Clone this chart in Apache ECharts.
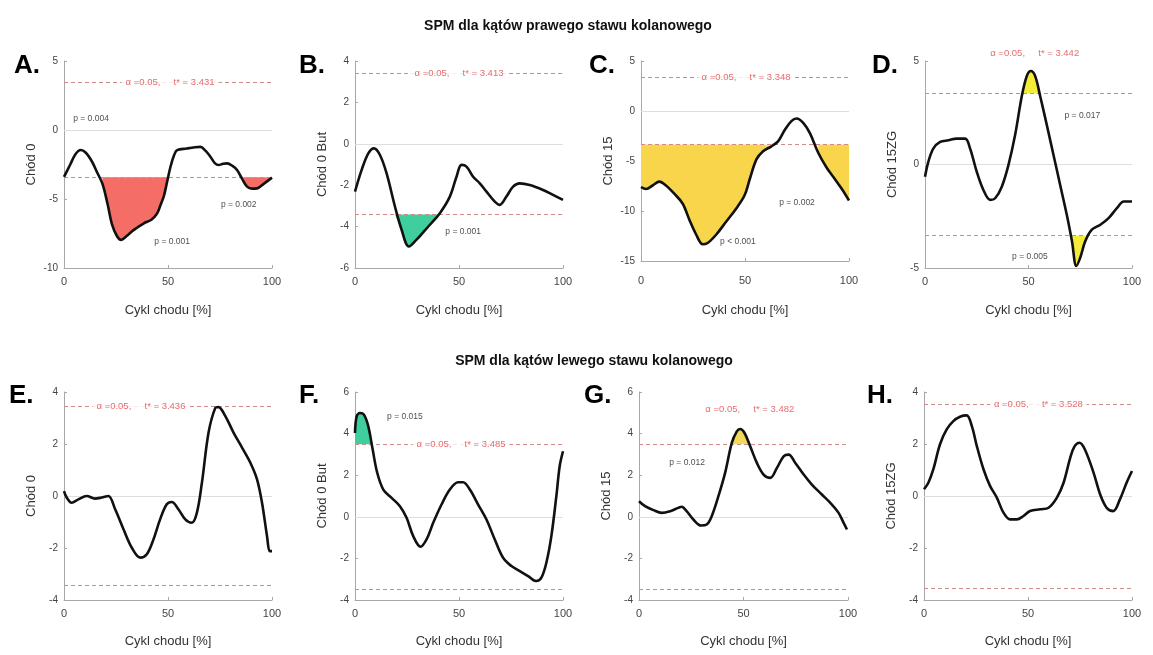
<!DOCTYPE html>
<html>
<head>
<meta charset="utf-8">
<script src="https://cdn.jsdelivr.net/npm/echarts@6/dist/echarts.min.js"></script>
<style>
  html, body { margin: 0; padding: 0; background: #fff; }
  #chart { width: 1153px; height: 655px; }
</style>
</head>
<body>
<div id="chart"></div>
<script>
// SPM{t} curves, [% of gait cycle, t value]
const curveA = [[0,-3.4],[3,-2.5],[5.5,-1.75],[8,-1.45],[10.5,-1.65],[13.5,-2.3],[16,-3.1],[18.5,-3.9],[21,-5.4],[23,-6.8],[25.5,-7.7],[27.5,-7.96],[30,-7.7],[33.6,-7.24],[38.4,-6.76],[42,-6.5],[44.8,-6.04],[46.5,-5.4],[48,-4.8],[49.5,-3.8],[51.2,-2.66],[53,-1.8],[54.4,-1.46],[59,-1.34],[63,-1.25],[65.6,-1.22],[68,-1.5],[70.4,-1.94],[72.5,-2.4],[74.4,-2.54],[76.5,-2.45],[78.4,-2.42],[81,-2.6],[83.2,-2.9],[85.5,-3.5],[88,-4.1],[90.5,-4.25],[92.8,-4.23],[96,-3.9],[100,-3.45]]
const curveB = [[0,-2.31],[3.2,-1.26],[6.4,-0.46],[9.1,-0.22],[12,-0.54],[15.2,-1.43],[19.2,-3.03],[22.4,-4.15],[25.9,-4.96],[29.6,-4.63],[33,-4.25],[36,-3.91],[40.8,-3.35],[45.6,-2.55],[48.8,-1.59],[51.2,-1.02],[53.6,-1.1],[56.8,-1.59],[60,-1.91],[63.2,-2.31],[67.2,-2.79],[69.6,-2.95],[72.8,-2.55],[76,-2.07],[79.2,-1.91],[84,-1.99],[90.4,-2.23],[95.2,-2.47],[100,-2.71]]
const curveC = [[0,-7.6],[2.4,-7.8],[5.6,-7.45],[8.8,-7.06],[12,-7.45],[16,-8.27],[20,-9.25],[23.3,-10.9],[26.5,-12.35],[29.7,-13.33],[32.2,-13.17],[36.2,-12.35],[41,-11.05],[45.8,-9.74],[49.8,-8.43],[52.3,-6.8],[55.5,-4.84],[58.7,-4.02],[62.7,-3.53],[65.9,-3.04],[69.1,-1.9],[72.3,-1.01],[74.8,-0.75],[78,-1.18],[81.2,-2.22],[85.2,-4.18],[89.2,-5.65],[93.2,-6.8],[96.5,-7.78],[100,-8.95]]
const curveD = [[0,-0.59],[1.6,0.13],[4,0.77],[7.3,1.09],[11.3,1.17],[15.3,1.25],[19.4,1.25],[21.8,0.77],[25,-0.35],[28.2,-1.23],[31.5,-1.71],[33.9,-1.63],[37.1,-1.07],[40.3,-0.03],[43.5,1.41],[46.8,3.32],[49.2,4.28],[51.1,4.52],[53.2,4.28],[55.6,3.32],[58.9,1.88],[62.1,0.45],[65.3,-0.99],[68.5,-2.43],[71,-3.71],[73.1,-4.9],[75,-4.5],[77.4,-3.71],[80.6,-3.15],[84.7,-2.91],[88.7,-2.59],[92.7,-2.11],[96,-1.79],[100,-1.79]]
const curveE = [[0,0.19],[1.3,-0.06],[3.7,-0.26],[6.9,-0.13],[10.9,0],[14.9,-0.1],[18.1,-0.06],[21.3,0],[24.6,-0.51],[28.6,-1.28],[32.6,-1.99],[36.6,-2.37],[39.8,-2.24],[43,-1.67],[46.2,-0.9],[49.4,-0.32],[51.8,-0.23],[55,-0.51],[58.3,-0.9],[61.5,-1.03],[63.9,-0.64],[66.3,0.51],[69.5,2.44],[72.7,3.38],[74.3,3.42],[77.5,3.08],[81.5,2.44],[85.6,1.86],[89.6,1.28],[92.8,0.64],[95.2,-0.26],[97.6,-1.54],[98.9,-2.12],[100,-2.12]]
const curveF = [[0,4.03],[0.8,4.83],[2.4,4.99],[4.3,4.91],[6.4,4.35],[8.5,3.23],[10.7,2.11],[13.6,1.31],[17.6,0.91],[21.6,0.51],[24.8,-0.05],[28,-0.93],[31.5,-1.44],[34.4,-1.09],[37.6,-0.29],[41.6,0.59],[45.6,1.31],[49.6,1.66],[52,1.66],[55.2,1.31],[59.2,0.59],[63.2,-0.13],[67.2,-1.09],[71.2,-1.97],[75.2,-2.37],[79.2,-2.61],[83.2,-2.85],[87.2,-3.09],[89.6,-2.93],[92,-2.21],[94.4,-0.93],[96.8,0.99],[98.4,2.43],[100,3.15]]
const curveG = [[0,0.75],[2.9,0.51],[6.9,0.32],[10.9,0.19],[14.9,0.27],[18.8,0.43],[20.4,0.48],[22.8,0.27],[26,-0.13],[29.7,-0.42],[32.4,-0.37],[34.8,0.03],[38,0.99],[41.2,2.11],[44.4,3.55],[46.8,4.11],[48.4,4.22],[50.5,4.03],[53.2,3.39],[56.4,2.59],[59.6,2.03],[62.8,1.87],[66,2.35],[69.2,2.91],[71.6,2.99],[74.8,2.59],[78.8,2.03],[82.7,1.55],[87.5,1.07],[92.3,0.59],[95.5,0.19],[97.9,-0.29],[99.5,-0.61]]
const curveH = [[0,0.26],[2.1,0.51],[4.5,1.03],[7.7,1.99],[10.9,2.56],[14.1,2.88],[17.3,3.05],[20.5,3.1],[23,2.69],[25.4,1.92],[28.6,1.03],[31.8,0.38],[35,-0.06],[38.2,-0.64],[41.4,-0.9],[44.6,-0.9],[47.8,-0.77],[51,-0.58],[55.9,-0.51],[59.9,-0.45],[63.9,-0.06],[67.1,0.51],[70.3,1.47],[72.3,1.9],[74.7,2.05],[77.3,1.8],[81.5,0.9],[84.7,0.06],[87.8,-0.45],[91,-0.58],[94.2,-0.13],[97.4,0.51],[100,0.96]]

// critical thresholds t*
const tStar = [3.431, 3.413, 3.348, 3.442, 3.436, 3.485, 3.482, 3.528]

// supra-threshold clusters: [side, from %, to %]
const clustersA = [['lower', 17, 49.6], ['lower', 85, 100]]
const clustersB = [['lower', 18, 41]]
const clustersC = [['lower', 0, 63], ['lower', 84, 100]]
const clustersD = [['upper', 45, 57], ['lower', 69, 79]]
const clustersE = []
const clustersF = [['upper', 0, 9]]
const clustersG = [['upper', 43, 54]]
const clustersH = []

// p-value labels: [x %, t, text]
const pLabelsA = [[13, 0.8, 'p = 0.004'], [52, -8.1, 'p = 0.001'], [84, -5.4, 'p = 0.002']]
const pLabelsB = [[52, -4.26, 'p = 0.001']]
const pLabelsC = [[46.6, -13.1, 'p < 0.001'], [75, -9.2, 'p = 0.002']]
const pLabelsD = [[76, 2.34, 'p = 0.017'], [50.7, -4.47, 'p = 0.005']]
const pLabelsE = []
const pLabelsF = [[24, 4.83, 'p = 0.015']]
const pLabelsG = [[23, 2.6, 'p = 0.012']]
const pLabelsH = []

// where the "alpha, t*" text sits: [x %, t]
const tLabelPos = [[51, 3.431], [50, 3.413], [50.5, 3.348], [53, 5.39], [37, 3.436], [51, 3.485], [53, 5.18], [55, 3.528]]

const yNames = ['Chód 0', 'Chód 0 But', 'Chód 15', 'Chód 15ZG', 'Chód 0', 'Chód 0 But', 'Chód 15', 'Chód 15ZG']
const yMin = [-10, -6, -15, -5, -4, -4, -4, -4]
const yMax = [5, 4, 5, 5, 4, 6, 6, 4]
const yStep = [5, 2, 5, 5, 2, 2, 2, 2]
const letters = ['A.', 'B.', 'C.', 'D.', 'E.', 'F.', 'G.', 'H.']

const curves = [curveA, curveB, curveC, curveD, curveE, curveF, curveG, curveH]
const clusters = [clustersA, clustersB, clustersC, clustersD, clustersE, clustersF, clustersG, clustersH]
const pLabels = [pLabelsA, pLabelsB, pLabelsC, pLabelsD, pLabelsE, pLabelsF, pLabelsG, pLabelsH]

// layout
const grids = [
  { left: 64, top: 61, width: 208, height: 207 },
  { left: 355, top: 61, width: 208, height: 207 },
  { left: 641, top: 61, width: 208, height: 200 },
  { left: 925, top: 61, width: 207, height: 207 },
  { left: 64, top: 392, width: 208, height: 208 },
  { left: 355, top: 392, width: 208, height: 208 },
  { left: 639, top: 392, width: 209, height: 208 },
  { left: 924, top: 392, width: 208, height: 208 },
]
const letterPos = [[14, 53], [299, 53], [589, 53], [872, 53], [9, 383], [299, 383], [584, 383], [867, 383]]
const fillColors = ['#f46d66', '#3fcf9f', '#f9d54c', '#f3ec3a', '#f9d54c', '#3fcf9f', '#f3d95a', '#f9d54c']
const xNameGap = [36, 36, 43, 36, 35, 35, 35, 35]
const xLabelMargin = [8, 8, 14, 8, 8, 8, 8, 8]

const chart = echarts.init(document.getElementById('chart'))

const axisGrey = '#a8a8a8'
const threshColor = '#cf8a8a'

const xAxes = grids.map((g, i) => ({
  type: 'value',
  gridIndex: i,
  min: 0,
  max: 100,
  interval: 50,
  name: 'Cykl chodu [%]',
  nameLocation: 'middle',
  nameGap: xNameGap[i],
  nameTextStyle: { fontFamily: 'Liberation Sans', fontSize: 13, color: '#333' },
  axisLine: { show: true, onZero: false, lineStyle: { color: axisGrey } },
  axisTick: { show: true, inside: true, length: 3, lineStyle: { color: axisGrey } },
  axisLabel: { fontFamily: 'Liberation Sans', fontSize: 11, color: '#444', margin: xLabelMargin[i] },
  splitLine: { show: false },
}))

const yAxes = grids.map((g, i) => ({
  type: 'value',
  gridIndex: i,
  min: yMin[i],
  max: yMax[i],
  interval: yStep[i],
  name: yNames[i],
  nameLocation: 'middle',
  nameGap: 26,
  nameTextStyle: { fontFamily: 'Liberation Sans', fontSize: 13, color: '#333' },
  axisLine: { show: true, lineStyle: { color: axisGrey } },
  axisTick: { show: true, inside: true, length: 3, lineStyle: { color: axisGrey } },
  axisLabel: { fontFamily: 'Liberation Sans', fontSize: 10, color: '#444', margin: 6 },
  splitLine: { show: false },
}))

const series = []
curves.forEach((curve, i) => {
  const t = tStar[i]
  // main SPM{t} trajectory with zero and threshold lines
  series.push({
    type: 'line',
    xAxisIndex: i,
    yAxisIndex: i,
    data: curve,
    smooth: 0.35,
    symbol: 'none',
    z: 5,
    lineStyle: { color: '#111', width: 2.6 },
    markLine: {
      silent: true,
      symbol: ['none', 'none'],
      label: { show: false },
      data: [
        { yAxis: 0, lineStyle: { type: 'solid', color: '#dedede', width: 1 } },
        { yAxis: t, lineStyle: { type: [4, 3], color: threshColor, width: 1 } },
        { yAxis: -t, lineStyle: { type: [4, 3], color: threshColor, width: 1 } },
      ],
    },
  })
  // shaded supra-threshold clusters
  clusters[i].forEach(([side, from, to]) => {
    const edge = side === 'upper' ? t : -t
    const clipped = curve
      .filter((p) => p[0] >= from && p[0] <= to)
      .map((p) => [p[0], side === 'upper' ? Math.max(p[1], edge) : Math.min(p[1], edge)])
    series.push({
      type: 'line',
      xAxisIndex: i,
      yAxisIndex: i,
      data: clipped,
      smooth: 0.35,
      symbol: 'none',
      z: 3,
      silent: true,
      lineStyle: { width: 0, opacity: 0 },
      areaStyle: { color: fillColors[i], opacity: 1, origin: edge },
    })
  })
  // text annotations
  const ann = [{
    value: tLabelPos[i],
    label: {
      formatter: 'α =0.05,     t* = ' + t.toFixed(3),
      color: '#e0474c',
      backgroundColor: '#fff',
      padding: [1, 4],
      fontSize: 9.5,
    },
  }]
  pLabels[i].forEach(([x, y, txt]) => {
    ann.push({ value: [x, y], label: { formatter: txt, color: '#222', fontSize: 8.5 } })
  })
  series.push({
    type: 'scatter',
    xAxisIndex: i,
    yAxisIndex: i,
    data: ann,
    symbolSize: 2,
    itemStyle: { color: 'rgba(0,0,0,0)' },
    clip: false,
    silent: true,
    z: 10,
    label: { show: true, position: 'inside', fontFamily: 'Liberation Sans', fontSize: 8 },
  })
})

const titles = [
  { text: 'SPM dla kątów prawego stawu kolanowego', left: 563, top: 14, textAlign: 'center',
    textStyle: { fontFamily: 'Liberation Sans', fontSize: 14, fontWeight: 'bold', color: '#111' } },
  { text: 'SPM dla kątów lewego stawu kolanowego', left: 589, top: 349, textAlign: 'center',
    textStyle: { fontFamily: 'Liberation Sans', fontSize: 14, fontWeight: 'bold', color: '#111' } },
].concat(letters.map((l, i) => ({
  text: l,
  left: letterPos[i][0],
  top: letterPos[i][1],
  padding: 0,
  textStyle: { fontFamily: 'Liberation Sans', fontSize: 26, fontWeight: 'bold', color: '#000' },
})))

chart.setOption({
  animation: false,
  backgroundColor: '#fff',
  title: titles,
  grid: grids,
  xAxis: xAxes,
  yAxis: yAxes,
  series: series,
})
</script>
</body>
</html>
